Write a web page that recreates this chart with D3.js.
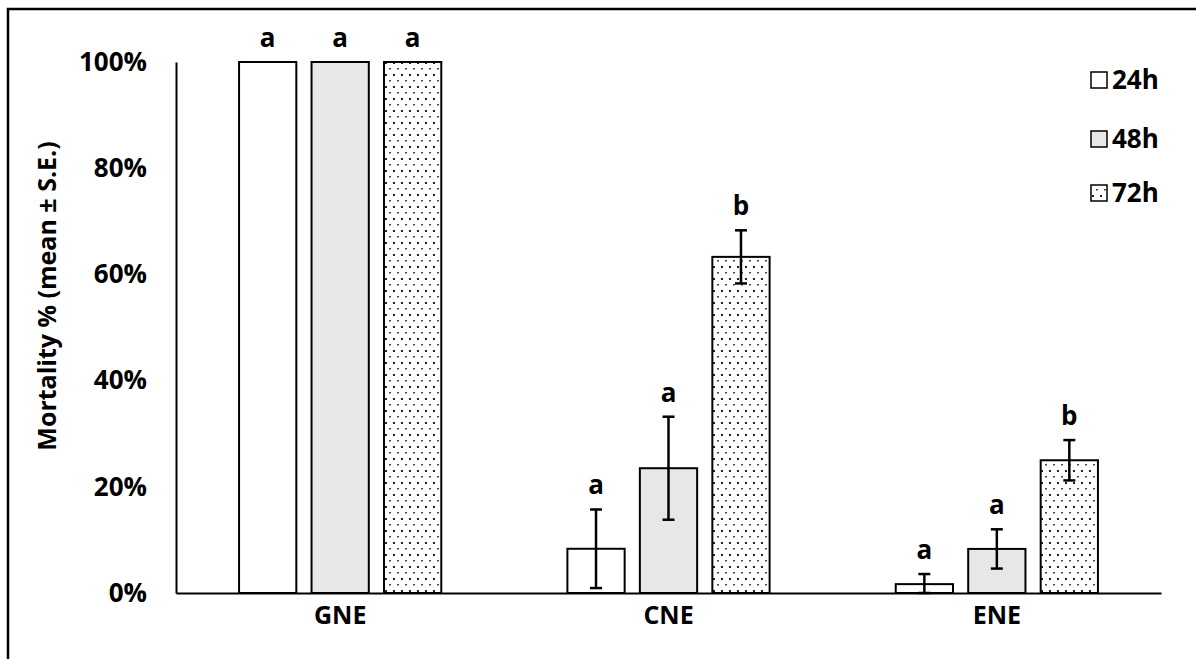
<!DOCTYPE html>
<html>
<head>
<meta charset="utf-8">
<script src="https://cdn.jsdelivr.net/npm/d3@7"></script>
<style>
  body { margin: 0; background: #fff; }
  text { font-family: "Open Sans", sans-serif; font-weight: bold; fill: #000; }
</style>
</head>
<body>
<script>
// data (percent)
var categories = ["GNE", "CNE", "ENE"];
var times = ["24h", "48h", "72h"];
var mean24 = [100, 8.33, 1.67];
var se24 = [0, 7.4, 1.9];
var mean48 = [100, 23.5, 8.3];
var se48 = [0, 9.7, 3.7];
var mean72 = [100, 63.3, 25.0];
var se72 = [0, 5.0, 3.8];
var letters24 = ["a", "a", "a"];
var letters48 = ["a", "a", "a"];
var letters72 = ["a", "b", "b"];
var yTicks = [0, 20, 40, 60, 80, 100];

var w = 1196, h = 659;
var mLeft = 176, mRight = 1161, mTop = 62, mBottom = 593;

var series = [
  { key: "24h", mean: mean24, se: se24, letters: letters24, fill: "#ffffff" },
  { key: "48h", mean: mean48, se: se48, letters: letters48, fill: "#e7e7e7" },
  { key: "72h", mean: mean72, se: se72, letters: letters72, fill: "url(#dots)" }
];

var rows = [];
categories.forEach(function(c, i) {
  series.forEach(function(s) {
    rows.push({ cat: c, key: s.key, mean: s.mean[i], se: s.se[i], letter: s.letters[i], fill: s.fill });
  });
});

var svg = d3.select("body").append("svg")
  .attr("width", w)
  .attr("height", h);

// dotted fill for 72h
var pat = svg.append("defs").append("pattern")
  .attr("id", "dots")
  .attr("patternUnits", "userSpaceOnUse")
  .attr("width", 8)
  .attr("height", 12);
pat.append("rect").attr("width", 8).attr("height", 12).attr("fill", "#fff");
pat.append("rect").attr("x", 1).attr("y", 2).attr("width", 2).attr("height", 2).attr("fill", "#222");
pat.append("rect").attr("x", 5).attr("y", 8).attr("width", 2).attr("height", 1.5).attr("fill", "#444");

// outer frame
svg.append("rect")
  .attr("x", 8).attr("y", 9)
  .attr("width", w).attr("height", h)
  .attr("fill", "none")
  .attr("stroke", "#000")
  .attr("stroke-width", 2.5);

var x0 = d3.scaleBand().domain(categories).range([mLeft, mRight]);
var x1 = d3.scaleBand().domain(times).range([0, x0.bandwidth()])
  .paddingInner(0.21).paddingOuter(0.87);
var y = d3.scaleLinear().domain([0, 100]).range([mBottom, mTop]);

// bars
svg.selectAll(".bar")
  .data(rows)
  .enter().append("rect")
  .attr("class", "bar")
  .attr("x", function(d) { return x0(d.cat) + x1(d.key); })
  .attr("y", function(d) { return y(d.mean); })
  .attr("width", x1.bandwidth())
  .attr("height", function(d) { return y(0) - y(d.mean); })
  .attr("fill", function(d) { return d.fill; })
  .attr("stroke", "#000")
  .attr("stroke-width", 2);

// error bars
function cx(d) { return x0(d.cat) + x1(d.key) + x1.bandwidth() / 2; }
function hi(d) { return y(d.mean + d.se); }
function lo(d) { return y(Math.max(0, d.mean - d.se)); }
var errs = svg.selectAll(".err")
  .data(rows.filter(function(d) { return d.se > 0; }))
  .enter().append("g")
  .attr("class", "err")
  .attr("stroke", "#000")
  .attr("stroke-width", 2.5);
errs.append("line")
  .attr("x1", cx).attr("x2", cx)
  .attr("y1", hi).attr("y2", lo);
errs.append("line")
  .attr("x1", function(d) { return cx(d) - 6; }).attr("x2", function(d) { return cx(d) + 6; })
  .attr("y1", hi).attr("y2", hi);
errs.append("line")
  .attr("x1", function(d) { return cx(d) - 6; }).attr("x2", function(d) { return cx(d) + 6; })
  .attr("y1", lo).attr("y2", lo);

// significance letters
svg.selectAll(".letter")
  .data(rows)
  .enter().append("text")
  .attr("class", "letter")
  .attr("x", cx)
  .attr("y", function(d) { return hi(d) - 15; })
  .attr("text-anchor", "middle")
  .style("font-size", "26px")
  .text(function(d) { return d.letter; });

// y axis
var yAxis = svg.append("g")
  .attr("transform", "translate(" + mLeft + ",0)")
  .call(d3.axisLeft(y).tickValues(yTicks).tickSize(0).tickSizeOuter(0).tickPadding(29)
    .tickFormat(function(d) { return d + "%"; }));
yAxis.select(".domain").attr("stroke", "#000").attr("stroke-width", 2);
yAxis.selectAll("text").style("font-size", "26px").style("font-family", "Open Sans").style("font-weight", "bold");

// x axis
var xAxis = svg.append("g")
  .attr("transform", "translate(0," + mBottom + ")")
  .call(d3.axisBottom(x0).tickSize(0).tickSizeOuter(0).tickPadding(13));
xAxis.select(".domain").attr("stroke", "#000").attr("stroke-width", 2);
xAxis.selectAll("text").style("font-size", "25px").style("font-family", "Open Sans").style("font-weight", "bold");

// y axis title
svg.append("text")
  .attr("transform", "translate(47," + 296 + ") rotate(-90)")
  .attr("text-anchor", "middle")
  .attr("dy", "0.35em")
  .style("font-size", "25px")
  .text("Mortality % (mean \u00b1 S.E.)");

// legend
var legend = svg.selectAll(".legend")
  .data(series)
  .enter().append("g")
  .attr("class", "legend")
  .attr("transform", function(d, i) { return "translate(1091," + [80, 139, 193][i] + ")"; });
legend.append("rect")
  .attr("x", 0).attr("y", -8)
  .attr("width", 16).attr("height", 16)
  .attr("fill", function(d) { return d.fill; })
  .attr("stroke", "#000")
  .attr("stroke-width", 1.5);
legend.append("text")
  .attr("x", 21)
  .attr("dy", "0.36em")
  .style("font-size", "26px")
  .text(function(d) { return d.key; });
</script>
</body>
</html>
